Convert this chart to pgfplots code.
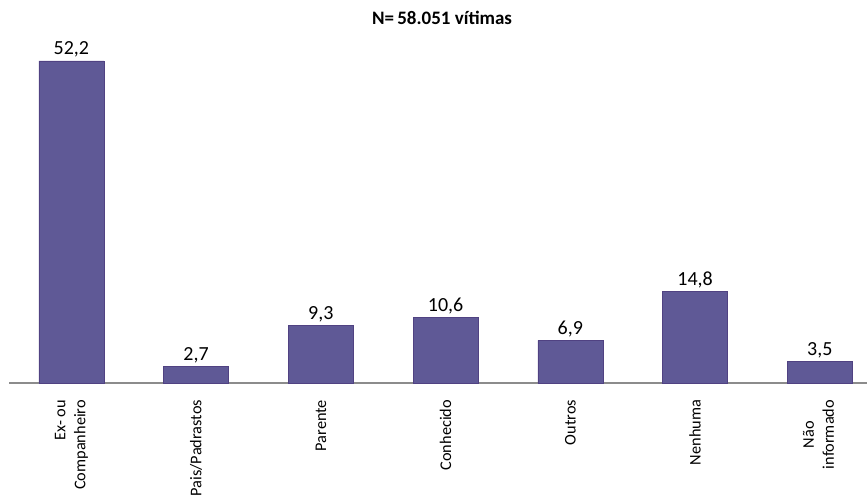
\documentclass[border=0pt]{standalone}
\usepackage{fontspec}
\setmainfont{Carlito}
\usepackage{pgfplots}
\pgfplotsset{compat=1.18}
\definecolor{barfill}{RGB}{95,89,150}
\definecolor{bardraw}{RGB}{80,66,130}
\definecolor{axgray}{RGB}{140,140,140}
\begin{document}
\begin{tikzpicture}
\path[use as bounding box] (0,0) rectangle (867bp,497bp);
\begin{axis}[
  at={(9bp,114bp)}, anchor=south west,
  scale only axis,
  width=873.25bp, height=345.5bp,
  xmin=-0.5, xmax=6.5, ymin=0, ymax=56,
  axis x line=bottom, axis y line=none,
  x axis line style={-, draw=axgray, line width=1.2pt},
  ytick=\empty,
  xtick={0,1,2,3,4,5,6},
  xticklabels={
    {\begin{tabular}{@{}r@{}}Ex- ou\\Companheiro\end{tabular}},
    Pais/Padrastos, Parente, Conhecido, Outros, Nenhuma,
    {\begin{tabular}{@{}c@{}}Não\\informado\end{tabular}}},
  major tick length=0pt,
  xticklabel style={rotate=90, anchor=east, font=\fontsize{16.3bp}{20bp}\selectfont, xshift=-13.5bp},
  title={\textbf{N=\,58.051 vítimas}},
  title style={at={(axis description cs:0.496,1)}, anchor=center, yshift=14bp, font=\fontsize{19bp}{22bp}\selectfont},
  nodes near coords={\pgfmathprintnumber[fixed,fixed zerofill,precision=1,use comma,assume math mode=true]{\pgfplotspointmeta}},
  nodes near coords style={font=\fontsize{20bp}{24bp}\selectfont, anchor=south, yshift=0bp},
  clip=false,
]
\addplot[ybar, bar width=65bp, fill=barfill, draw=bardraw, line width=0.6pt] coordinates {
  (0,52.2) (1,2.7) (2,9.3) (3,10.6) (4,6.9) (5,14.8) (6,3.5)
};
\end{axis}
\end{tikzpicture}
\end{document}
